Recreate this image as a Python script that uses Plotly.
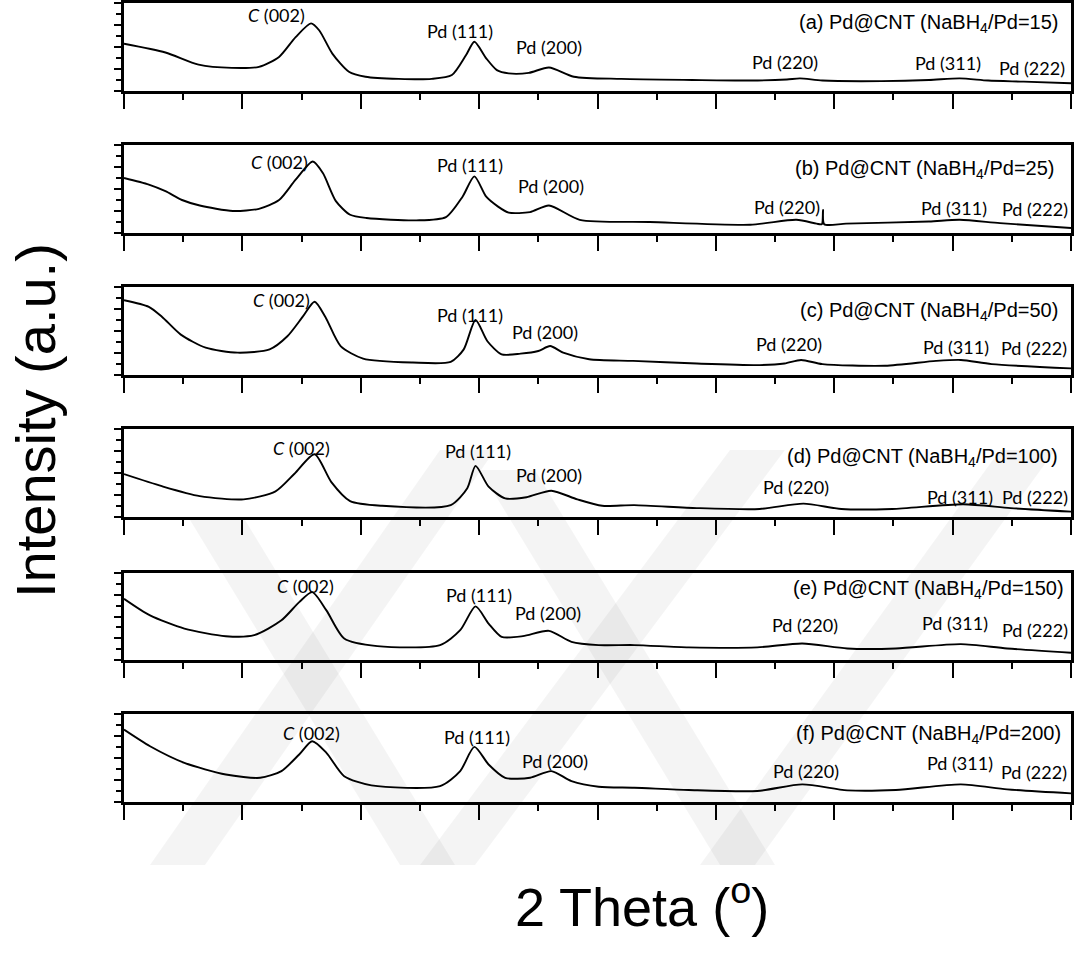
import plotly.graph_objects as go

# ---------------- data ----------------
two_theta_a = [10.0, 13.5, 16.3, 19.1, 21.4, 23.1, 24.5, 25.8, 26.5, 27.6, 29.0, 30.4, 33.2, 36.0, 37.7, 38.9, 39.6, 40.6, 41.5, 42.5, 44.2, 45.9, 48.0, 52.0, 58.0, 63.0, 66.0, 67.1, 69.0, 74.0, 78.0, 80.6, 83.0, 86.0, 90.0]
int_a = [4.3, 3.5, 2.4, 2.1, 2.2, 3.1, 4.9, 6.15, 5.5, 3.4, 1.75, 1.3, 1.1, 1.1, 1.45, 3.27, 4.48, 2.97, 1.9, 1.6, 1.65, 2.14, 1.3, 1.1, 1.0, 0.95, 1.05, 1.15, 0.95, 0.9, 1.0, 1.15, 0.95, 0.85, 0.7]

two_theta_b = [10.0, 12.1, 13.5, 14.9, 16.4, 19.2, 21.4, 23.1, 24.5, 25.95, 26.8, 27.9, 29.1, 30.5, 34.7, 37.2, 38.6, 39.6, 40.6, 41.6, 42.5, 44.3, 45.9, 48.5, 54.4, 62.9, 66.8, 68.5, 68.95, 69.05, 69.15, 71.0, 78.0, 80.6, 84.0, 90.0]
int_b = [5.0, 4.4, 3.8, 3.0, 2.5, 2.0, 2.2, 3.0, 4.85, 6.5, 5.45, 2.9, 1.66, 1.36, 1.15, 1.45, 3.3, 5.15, 3.3, 2.4, 1.85, 1.9, 2.5, 1.2, 1.0, 0.75, 1.2, 0.85, 0.8, 2.1, 0.8, 0.85, 1.05, 1.2, 0.9, 0.45]

two_theta_c = [10.0, 12.1, 13.2, 14.8, 16.9, 19.6, 22.3, 23.8, 25.1, 26.1, 27.0, 28.3, 30.2, 34.4, 37.6, 38.7, 39.7, 40.7, 41.9, 43.5, 45.0, 46.0, 47.1, 49.3, 53.0, 58.4, 63.7, 65.8, 67.2, 69.0, 74.3, 78.6, 80.7, 83.3, 90.0]
int_c = [6.8, 6.2, 5.3, 3.67, 2.48, 2.03, 2.33, 3.52, 5.3, 6.66, 5.3, 2.63, 1.49, 1.13, 1.19, 2.33, 5.0, 3.07, 1.88, 1.94, 2.18, 2.63, 2.03, 1.43, 1.28, 1.04, 0.9, 1.04, 1.37, 0.99, 0.84, 1.28, 1.37, 0.99, 0.6]

two_theta_d = [10.0, 13.2, 16.4, 20.1, 22.8, 24.4, 26.1, 27.5, 29.1, 31.8, 37.6, 39.0, 39.7, 40.8, 42.2, 44.0, 46.1, 48.3, 50.4, 53.1, 58.4, 63.7, 67.4, 70.6, 74.9, 80.9, 84.9, 90.0]
int_d = [3.9, 2.8, 1.9, 1.6, 2.33, 3.93, 5.7, 3.2, 1.45, 1.02, 1.08, 2.62, 4.65, 2.76, 1.69, 1.8, 2.39, 1.6, 1.02, 1.08, 0.81, 0.73, 1.22, 0.73, 0.73, 1.16, 0.81, 0.49]

two_theta_e = [10.0, 12.2, 15.1, 18.6, 21.0, 23.3, 24.8, 25.9, 27.1, 28.6, 31.4, 36.7, 38.4, 39.7, 40.8, 41.9, 43.7, 45.9, 47.8, 50.1, 53.1, 57.7, 63.5, 67.3, 71.1, 75.2, 80.7, 84.6, 90.0]
int_e = [5.63, 4.1, 2.89, 2.19, 2.28, 3.65, 5.32, 6.24, 4.56, 1.98, 1.28, 1.37, 2.74, 4.93, 3.35, 2.13, 2.19, 2.68, 1.67, 1.37, 1.37, 1.16, 1.16, 1.52, 1.06, 1.06, 1.46, 1.06, 0.67]

two_theta_f = [10.0, 12.2, 15.1, 18.6, 21.5, 23.3, 24.8, 25.9, 27.1, 28.6, 30.9, 36.7, 38.4, 39.6, 40.8, 42.2, 44.3, 46.1, 47.8, 50.1, 53.1, 57.7, 63.5, 67.3, 71.1, 75.2, 80.7, 84.6, 90.0]
int_f = [6.58, 5.07, 3.56, 2.5, 2.2, 2.81, 4.32, 5.52, 4.47, 2.35, 1.51, 1.45, 2.81, 5.01, 3.41, 2.2, 2.2, 2.81, 1.9, 1.39, 1.3, 1.09, 1.0, 1.6, 1.06, 1.09, 1.6, 1.15, 0.78]

panel_titles = ["(a) Pd@CNT (NaBH<sub>4</sub>/Pd=15)",
                "(b) Pd@CNT (NaBH<sub>4</sub>/Pd=25)",
                "(c) Pd@CNT (NaBH<sub>4</sub>/Pd=50)",
                "(d) Pd@CNT (NaBH<sub>4</sub>/Pd=100)",
                "(e) Pd@CNT (NaBH<sub>4</sub>/Pd=150)",
                "(f) Pd@CNT (NaBH<sub>4</sub>/Pd=200)"]
peak_names = ["<i>C</i> (002)", "Pd (111)", "Pd (200)", "Pd (220)", "Pd (311)", "Pd (222)"]

# --------------- layout helpers (positions, not data) ---------------
series_x = [two_theta_a, two_theta_b, two_theta_c, two_theta_d, two_theta_e, two_theta_f]
series_y = [int_a, int_b, int_c, int_d, int_e, int_f]

W, H = 1080, 965
panel_px = [(3, 91), (145, 233), (287, 375), (429, 517), (573, 660), (714, 802)]
x_left, x_right = 124, 1071

label_pos = [
    [(22.9, 6.91), (38.4, 5.45), (45.9, 4.0), (65.8, 2.64), (79.6, 2.55), (86.7, 2.09)],
    [(23.1, 6.45), (39.2, 6.18), (46.1, 4.27), (66.0, 2.36), (80.1, 2.27), (87.0, 2.18)],
    [(23.3, 6.82), (39.2, 5.45), (45.6, 3.91), (66.2, 2.82), (80.3, 2.55), (86.9, 2.45)],
    [(25.0, 6.27), (39.9, 6.0), (45.9, 3.82), (66.8, 2.73), (80.6, 1.82), (87.0, 1.82)],
    [(25.3, 6.82), (40.0, 6.0), (45.8, 4.36), (67.5, 3.18), (80.2, 3.36), (87.0, 2.73)],
    [(25.8, 6.27), (39.8, 5.91), (46.4, 3.73), (67.6, 2.82), (80.6, 3.55), (86.9, 2.73)],
]
title_pos = [(89.1, 6.18), (88.7, 5.73), (89.1, 5.73), (89.1, 5.45), (89.6, 6.45), (89.3, 6.18)]

fig = go.Figure()
annotations = []
for i in range(6):
    n = "" if i == 0 else str(i + 1)
    fig.add_trace(go.Scatter(x=series_x[i], y=series_y[i], mode="lines",
                             line=dict(color="black", width=1.9, shape="spline", smoothing=0.7),
                             xaxis="x" + n, yaxis="y" + n, showlegend=False,
                             hoverinfo="skip"))
    top, bot = panel_px[i]
    fig.layout["xaxis" + n] = dict(
        domain=[x_left / W, x_right / W], anchor="y" + n, range=[10, 90],
        showline=True, linecolor="black", linewidth=2.5, mirror=True,
        showgrid=False, zeroline=False, showticklabels=False,
        ticks="outside", tick0=10, dtick=10, ticklen=15, tickwidth=2, tickcolor="black",
        minor=dict(ticks="outside", dtick=5, ticklen=6, tickwidth=2, tickcolor="black", showgrid=False),
    )
    fig.layout["yaxis" + n] = dict(
        domain=[1 - bot / H, 1 - top / H], anchor="x" + n, range=[0, 8],
        showline=True, linecolor="black", linewidth=2.5, mirror=True,
        showgrid=False, zeroline=False, showticklabels=False,
        ticks="outside", tick0=0, dtick=2, ticklen=7, tickwidth=2, tickcolor="black",
        minor=dict(ticks="outside", dtick=1, ticklen=5, tickwidth=2, tickcolor="black", showgrid=False),
    )
    for name, (px, py) in zip(peak_names, label_pos[i]):
        annotations.append(dict(x=px, y=py, xref="x" + n, yref="y" + n, text=name,
                                showarrow=False, xanchor="center", yanchor="middle",
                                font=dict(family="Lato", size=18, color="black")))
    tx, ty = title_pos[i]
    annotations.append(dict(x=tx, y=ty, xref="x" + n, yref="y" + n, text=panel_titles[i],
                            showarrow=False, xanchor="right", yanchor="middle",
                            font=dict(family="Liberation Sans, Arial", size=20, color="black")))

annotations.append(dict(x=35 / W, y=1 - 421 / H, xref="paper", yref="paper",
                        text="Intensity (a.u.)", textangle=-90, showarrow=False,
                        xanchor="center", yanchor="middle",
                        font=dict(family="Liberation Sans, Arial", size=56, color="black")))
annotations.append(dict(x=642 / W, y=1 - 903 / H, xref="paper", yref="paper",
                        text="2 Theta (<sup>o</sup>)", showarrow=False,
                        xanchor="center", yanchor="middle",
                        font=dict(family="Liberation Sans, Arial", size=54, color="black")))

# faint background watermark bands (paper coordinates)
def band(x0, y0, x1, y1, w):
    return dict(type="path", xref="paper", yref="paper", layer="below",
                path=f"M {x0/W},{1-y0/H} L {(x0+w)/W},{1-y0/H} L {(x1+w)/W},{1-y1/H} L {x1/W},{1-y1/H} Z",
                fillcolor="rgba(0,0,0,0.045)", line=dict(width=0))

shapes = [
    band(190, 520, 400, 865, 55),
    band(150, 865, 440, 450, 55),
    band(480, 470, 720, 865, 55),
    band(420, 865, 730, 450, 55),
    band(700, 865, 1000, 450, 55),
]

fig.update_layout(width=W, height=H, margin=dict(l=0, r=0, t=0, b=0),
                  paper_bgcolor="white", plot_bgcolor="rgba(0,0,0,0)",
                  annotations=annotations, shapes=shapes)

fig.write_html("out.html")
